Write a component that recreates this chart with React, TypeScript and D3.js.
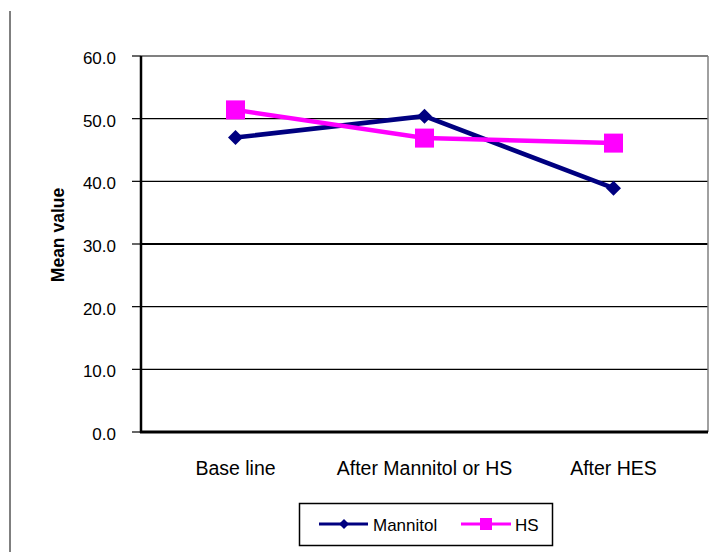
import React from "react";
import * as d3 from "d3";

const categories = ["Base line", "After Mannitol or HS", "After HES"];
const mannitol = [47.0, 50.4, 38.9];
const hs = [51.4, 46.9, 46.1];
const yTicks = [0, 10, 20, 30, 40, 50, 60];

const W = 722;
const H = 552;
const plot = { left: 141, right: 708, top: 56, bottom: 432 };
const FONT = "Arial, 'Liberation Sans', sans-serif";

export default function App() {
  const x = d3
    .scalePoint<string>()
    .domain(categories)
    .range([plot.left, plot.right])
    .padding(0.5);
  const y = d3.scaleLinear().domain([0, 60]).range([plot.bottom, plot.top]);

  const line = d3
    .line<number>()
    .x((_, i) => x(categories[i]) as number)
    .y((d) => y(d));

  const diamond = (cx: number, cy: number, r: number) =>
    `M${cx},${cy - r}L${cx + r},${cy}L${cx},${cy + r}L${cx - r},${cy}Z`;

  return (
    <svg
      width={W}
      height={H}
      style={{ position: "absolute", left: 0, top: 0, background: "#fff" }}
      fontFamily={FONT}
    >
      <rect x={0} y={0} width={W} height={H} fill="#fff" />
      {/* outer frame edge */}
      <line x1={10} x2={10} y1={11} y2={H} stroke="#000" strokeWidth={1} />

      {/* gridlines */}
      {yTicks
        .filter((t) => t > 0 && t < 60)
        .map((t) => (
          <line
            key={t}
            x1={plot.left}
            x2={plot.right}
            y1={y(t)}
            y2={y(t)}
            stroke="#000"
            strokeWidth={t === 30 ? 2 : 1.2}
          />
        ))}

      {/* plot frame: grey top/right, black axes */}
      <line x1={plot.left} x2={plot.right} y1={plot.top} y2={plot.top} stroke="#808080" strokeWidth={2} />
      <line x1={plot.right} x2={plot.right} y1={plot.top} y2={plot.bottom} stroke="#808080" strokeWidth={1.5} />
      <line x1={plot.left} x2={plot.left} y1={plot.top} y2={plot.bottom + 1} stroke="#000" strokeWidth={2.5} />
      <line x1={plot.left - 1} x2={plot.right} y1={plot.bottom} y2={plot.bottom} stroke="#000" strokeWidth={3} />

      {/* y ticks and labels */}
      {yTicks.map((t) => (
        <g key={t}>
          <line x1={plot.left - 9} x2={plot.left} y1={y(t)} y2={y(t)} stroke="#000" strokeWidth={1.2} />
          <text
            x={116}
            y={y(t) + 8}
            textAnchor="end"
            fontSize={17}
            fill="#000"
          >
            {t.toFixed(1)}
          </text>
        </g>
      ))}

      {/* y axis title */}
      <text
        transform={`translate(64, 235) rotate(-90)`}
        textAnchor="middle"
        fontSize={17.5}
        fontWeight="bold"
        fill="#000"
      >
        Mean value
      </text>

      {/* x category labels */}
      {categories.map((c) => (
        <text
          key={c}
          x={x(c) as number}
          y={475}
          textAnchor="middle"
          fontSize={19.5}
          fill="#000"
        >
          {c}
        </text>
      ))}

      {/* series */}
      <path d={line(mannitol) || ""} fill="none" stroke="#000080" strokeWidth={4.5} />
      <path d={line(hs) || ""} fill="none" stroke="#FF00FF" strokeWidth={4.5} />
      {mannitol.map((v, i) => (
        <path key={"m" + i} d={diamond(x(categories[i]) as number, y(v), 7.5)} fill="#000080" />
      ))}
      {hs.map((v, i) => (
        <rect
          key={"h" + i}
          x={(x(categories[i]) as number) - 9.5}
          y={y(v) - 9.5}
          width={19}
          height={19}
          fill="#FF00FF"
        />
      ))}

      {/* legend */}
      <rect x={299.5} y={503.5} width={253} height={42} fill="#fff" stroke="#000" strokeWidth={1.5} />
      <line x1={319} x2={368} y1={524} y2={524} stroke="#000080" strokeWidth={3} />
      <path d={diamond(344, 524, 5)} fill="#000080" />
      <text x={373} y={530.5} fontSize={17} fill="#000">Mannitol</text>
      <line x1={461} x2={511} y1={524} y2={524} stroke="#FF00FF" strokeWidth={3} />
      <rect x={480} y={518} width={12} height={12} fill="#FF00FF" />
      <text x={515} y={530.5} fontSize={17} fill="#000">HS</text>
    </svg>
  );
}
